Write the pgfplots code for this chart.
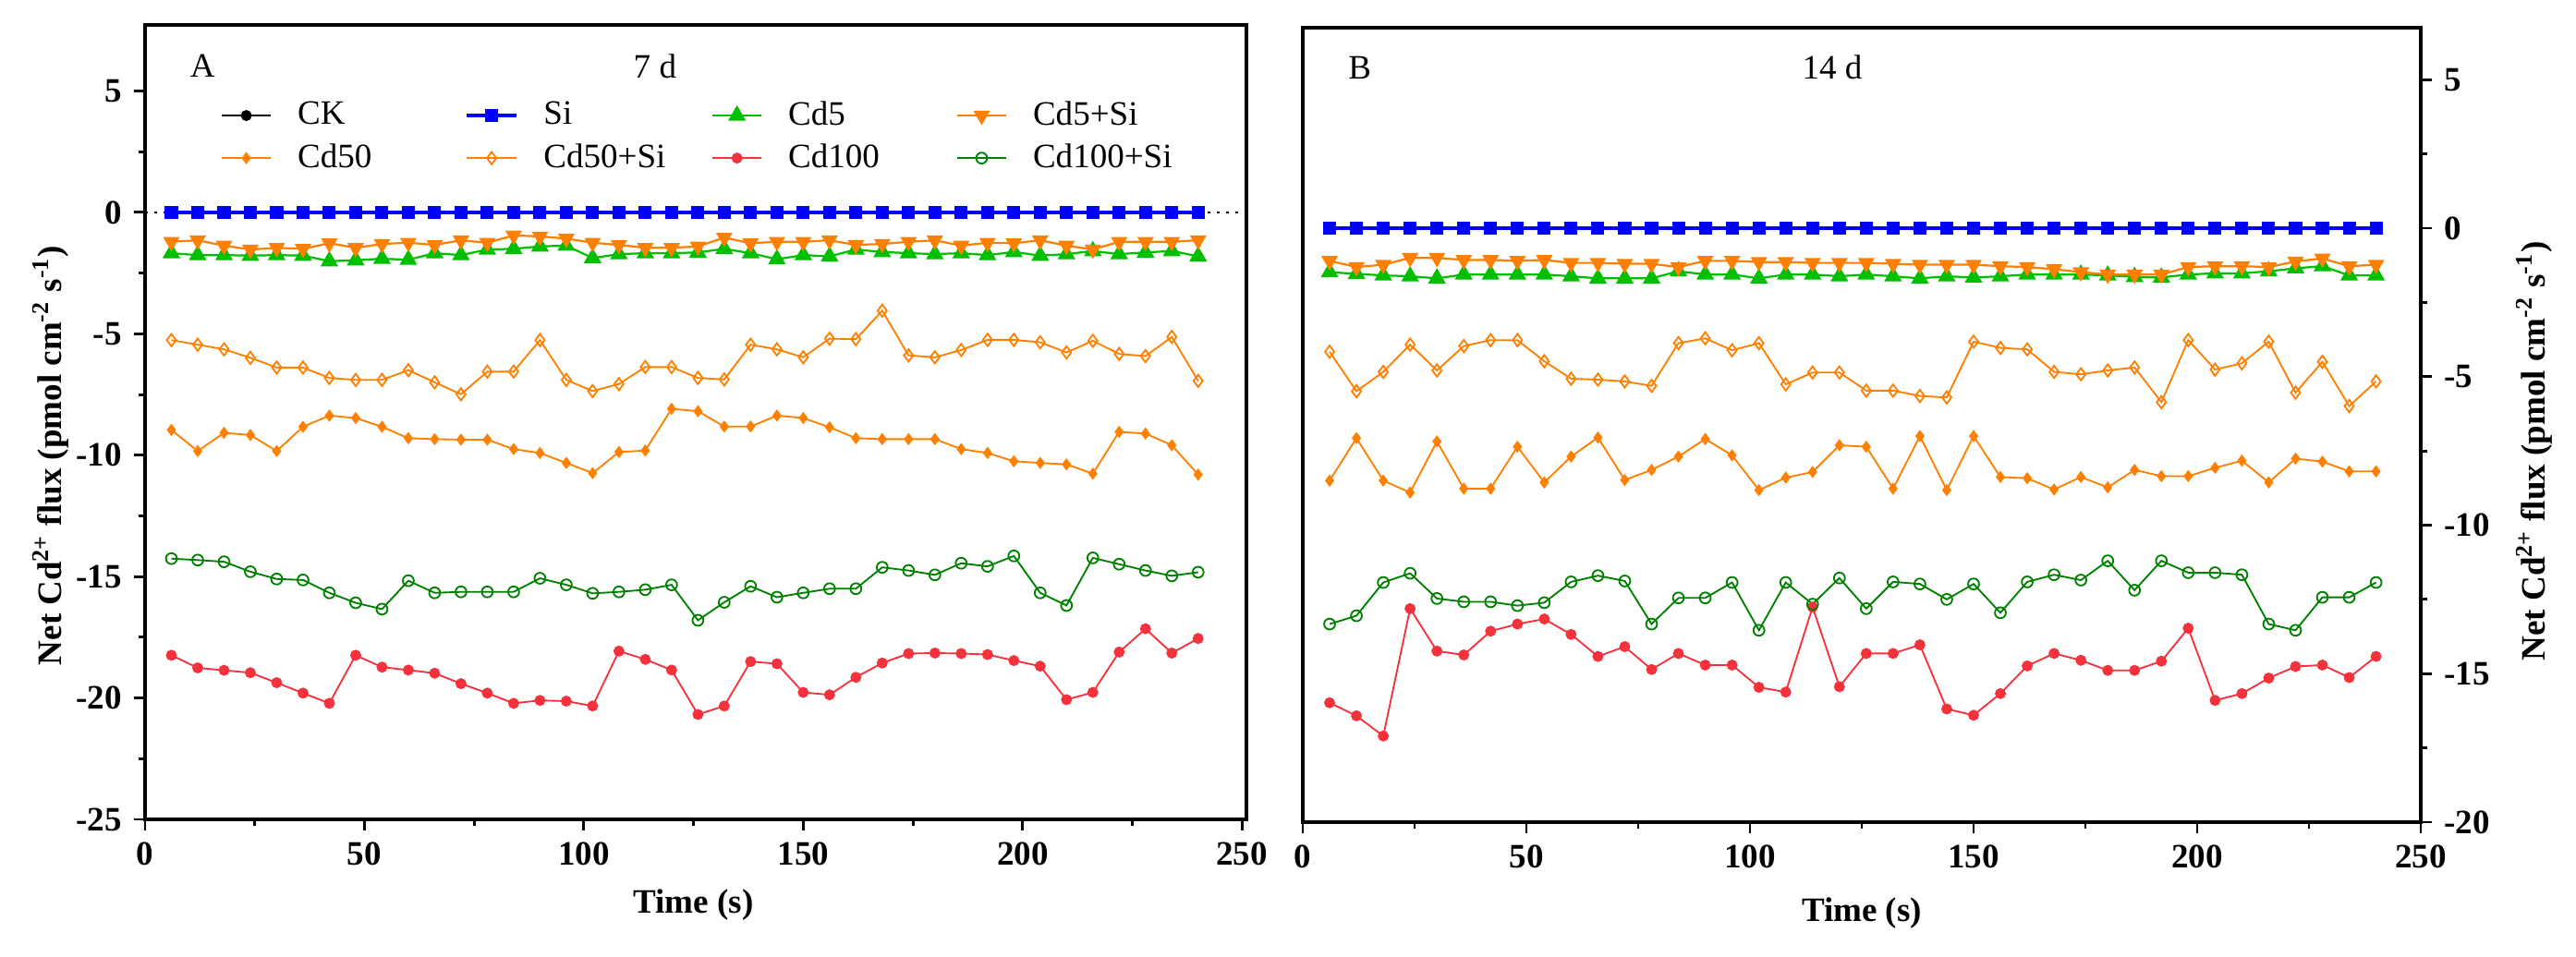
\documentclass[border=0pt]{standalone}
\usepackage{fontspec}
\setmainfont{Liberation Serif}
\usepackage{pgfplots}
\usepackage{pgfplotstable}
\pgfplotsset{compat=1.18}

\definecolor{cblue}{RGB}{0,0,255}
\definecolor{cgreen}{RGB}{0,190,0}
\definecolor{corange}{RGB}{255,128,0}
\definecolor{cred}{RGB}{245,50,60}
\definecolor{cdgreen}{RGB}{0,128,0}

% 7 d
\pgfplotstableread{
t   CK  Si  Cd5    Cd5Si  Cd50    Cd50Si  Cd100   Cd100Si
6   0   0   -1.68  -1.21  -8.96   -5.26   -18.24  -14.26
12  0   0   -1.76  -1.15  -9.83   -5.45   -18.76  -14.32
18  0   0   -1.76  -1.37  -9.08   -5.64   -18.86  -14.39
24  0   0   -1.78  -1.53  -9.17   -5.99   -18.96  -14.80
30  0   0   -1.76  -1.46  -9.83   -6.39   -19.37  -15.10
36  0   0   -1.78  -1.50  -8.83   -6.39   -19.80  -15.14
42  0   0   -2.01  -1.27  -8.37   -6.82   -20.22  -15.67
48  0   0   -1.97  -1.46  -8.47   -6.90   -18.24  -16.08
54  0   0   -1.91  -1.30  -8.83   -6.90   -18.73  -16.34
60  0   0   -1.95  -1.25  -9.30   -6.50   -18.85  -15.17
66  0   0   -1.68  -1.34  -9.34   -7.00   -18.98  -15.67
72  0   0   -1.76  -1.15  -9.36   -7.49   -19.41  -15.63
78  0   0   -1.53  -1.25  -9.36   -6.56   -19.80  -15.63
84  0   0   -1.50  -0.95  -9.75   -6.56   -20.22  -15.63
90  0   0   -1.40  -0.99  -9.91   -5.26   -20.10  -15.07
96  0   0   -1.37  -1.08  -10.32  -6.90   -20.13  -15.34
102 0   0   -1.88  -1.25  -10.74  -7.36   -20.33  -15.69
108 0   0   -1.72  -1.34  -9.87   -7.07   -18.07  -15.63
114 0   0   -1.68  -1.46  -9.81   -6.37   -18.41  -15.54
120 0   0   -1.68  -1.46  -8.09   -6.37   -18.85  -15.34
126 0   0   -1.65  -1.40  -8.19   -6.82   -20.68  -16.80
132 0   0   -1.50  -1.04  -8.82   -6.88   -20.33  -16.06
138 0   0   -1.68  -1.27  -8.82   -5.45   -18.50  -15.40
144 0   0   -1.93  -1.21  -8.37   -5.64   -18.59  -15.85
150 0   0   -1.76  -1.21  -8.47   -5.97   -19.77  -15.67
156 0   0   -1.81  -1.15  -8.85   -5.20   -19.87  -15.50
162 0   0   -1.53  -1.34  -9.30   -5.22   -19.15  -15.50
168 0   0   -1.63  -1.30  -9.34   -4.05   -18.56  -14.62
174 0   0   -1.68  -1.21  -9.34   -5.89   -18.17  -14.75
180 0   0   -1.72  -1.15  -9.34   -5.97   -18.15  -14.93
186 0   0   -1.68  -1.37  -9.75   -5.67   -18.17  -14.45
192 0   0   -1.76  -1.25  -9.91   -5.25   -18.21  -14.58
198 0   0   -1.63  -1.27  -10.25  -5.25   -18.46  -14.15
204 0   0   -1.78  -1.15  -10.32  -5.35   -18.69  -15.67
210 0   0   -1.72  -1.37  -10.38  -5.77   -20.07  -16.19
216 0   0   -1.59  -1.53  -10.76  -5.29   -19.77  -14.23
222 0   0   -1.72  -1.21  -9.04   -5.83   -18.11  -14.49
228 0   0   -1.65  -1.21  -9.11   -5.92   -17.15  -14.75
234 0   0   -1.59  -1.21  -9.59   -5.13   -18.15  -14.97
240 0   0   -1.81  -1.15  -10.80  -6.94   -17.55  -14.82
}\tabA

% 14 d
\pgfplotstableread{
t   CK  Si  Cd5    Cd5Si  Cd50   Cd50Si  Cd100   Cd100Si
6   0   0   -1.48  -1.10  -8.50  -4.16   -15.98  -13.33
12  0   0   -1.54  -1.31  -7.07  -5.49   -16.42  -13.05
18  0   0   -1.59  -1.23  -8.50  -4.84   -17.10  -11.93
24  0   0   -1.62  -1.00  -8.90  -3.92   -12.81  -11.62
30  0   0   -1.69  -1.00  -7.18  -4.79   -14.24  -12.47
36  0   0   -1.56  -1.07  -8.77  -3.97   -14.37  -12.58
42  0   0   -1.56  -1.07  -8.77  -3.77   -13.57  -12.58
48  0   0   -1.56  -1.10  -7.36  -3.77   -13.33  -12.71
54  0   0   -1.56  -1.07  -8.56  -4.48   -13.16  -12.61
60  0   0   -1.62  -1.17  -7.69  -5.07   -13.68  -11.91
66  0   0   -1.69  -1.17  -7.05  -5.10   -14.42  -11.70
72  0   0   -1.69  -1.20  -8.48  -5.16   -14.09  -11.88
78  0   0   -1.69  -1.20  -8.14  -5.31   -14.86  -13.33
84  0   0   -1.45  -1.31  -7.69  -3.87   -14.32  -12.45
90  0   0   -1.56  -1.10  -7.10  -3.71   -14.71  -12.45
96  0   0   -1.56  -1.10  -7.65  -4.11   -14.71  -11.93
102 0   0   -1.69  -1.14  -8.82  -3.87   -15.46  -13.54
108 0   0   -1.56  -1.14  -8.40  -5.26   -15.62  -11.93
114 0   0   -1.56  -1.17  -8.21  -4.86   -12.76  -12.66
120 0   0   -1.62  -1.17  -7.31  -4.86   -15.44  -11.78
126 0   0   -1.56  -1.17  -7.36  -5.47   -14.32  -12.81
132 0   0   -1.62  -1.20  -8.77  -5.47   -14.32  -11.91
138 0   0   -1.69  -1.23  -7.00  -5.65   -14.03  -11.98
144 0   0   -1.62  -1.23  -8.82  -5.70   -16.19  -12.50
150 0   0   -1.66  -1.23  -7.00  -3.82   -16.40  -11.98
156 0   0   -1.62  -1.28  -8.38  -4.03   -15.67  -12.95
162 0   0   -1.56  -1.31  -8.42  -4.08   -14.74  -11.91
168 0   0   -1.56  -1.38  -8.80  -4.84   -14.32  -11.67
174 0   0   -1.56  -1.48  -8.38  -4.92   -14.55  -11.85
180 0   0   -1.59  -1.56  -8.73  -4.79   -14.89  -11.20
186 0   0   -1.64  -1.56  -8.14  -4.69   -14.89  -12.19
192 0   0   -1.66  -1.56  -8.35  -5.86   -14.58  -11.20
198 0   0   -1.56  -1.31  -8.35  -3.77   -13.47  -11.60
204 0   0   -1.52  -1.28  -8.07  -4.76   -15.90  -11.60
210 0   0   -1.52  -1.28  -7.83  -4.55   -15.67  -11.67
216 0   0   -1.45  -1.31  -8.56  -3.82   -15.15  -13.33
222 0   0   -1.35  -1.12  -7.76  -5.54   -14.76  -13.54
228 0   0   -1.28  -1.02  -7.86  -4.50   -14.71  -12.43
234 0   0   -1.59  -1.28  -8.19  -5.99   -15.13  -12.43
240 0   0   -1.59  -1.23  -8.19  -5.16   -14.42  -11.93
}\tabB

\pgfplotsset{
  fluxaxis/.style={
    scale only axis,
    height=232.2pt,
    tick align=outside,
    major tick length=3.3pt,
    minor tick length=2pt,
    xtick={0,50,...,250},
    minor x tick num=1,
    minor y tick num=1,
    xtick pos=left,
    ticklabel style={font=\bfseries},
    /pgf/number format/assume math mode=true,
    axis line style={line width=1.1pt},
    every tick/.style={black, line width=0.8pt},
    xlabel={\textbf{Time (s)}},
    ylabel={\textbf{Net Cd\textsuperscript{2+} flux (pmol cm\textsuperscript{-2} s\textsuperscript{-1})}},
    legend image code/.code={\draw[mark repeat=2,mark phase=2,##1] plot coordinates {(0pt,0pt) (7.2pt,0pt) (14.4pt,0pt)};},
  },
  sCK/.style={black, line width=0.6pt, mark=*, mark size=1.3pt},
  sSi/.style={cblue, line width=1pt, mark=square*, mark size=1.4pt},
  sCdf/.style={cgreen, line width=0.6pt, mark=triangle*, mark size=2.4pt},
  sCdfSi/.style={corange, line width=0.6pt, mark=triangle*, mark size=2.2pt, mark options={rotate=180}},
  sCdff/.style={corange, line width=0.5pt, mark=diamond*, mark size=1.4pt},
  sCdffSi/.style={corange, line width=0.5pt, mark=diamond, mark size=1.8pt, mark options={fill=white}},
  sCdh/.style={cred, line width=0.5pt, mark=*, mark size=1.35pt},
  sCdhSi/.style={cdgreen, line width=0.5pt, mark=o, mark size=1.6pt, mark options={fill=white}},
}

\begin{document}
\begin{tikzpicture}
% ---------------- Panel A ----------------
\begin{axis}[fluxaxis,
  at={(42.39pt,39.96pt)}, anchor=south west,
  width=321.84pt,
  xmin=0, xmax=251,
  ymin=-25, ymax=7.72,
  ytick={-25,-20,...,5},
  ytick pos=left,
  xlabel style={at={(axis description cs:0.498,-0.108)}, anchor=center},
  ylabel style={at={(axis description cs:-0.0856,0.458)}, anchor=center, rotate=0},
  legend columns=4,
  legend cell align=left,
  legend style={at={(0.068,0.905)}, anchor=north west, draw=none, fill=none,
    inner sep=0pt, row sep=4pt, nodes={inner sep=0pt},
    /tikz/every odd column/.append style={column sep=7.5pt}},
]
\addplot[black, dotted, line width=0.7pt, forget plot] coordinates {(0,0) (251,0)};
\addplot[sCK] table[x=t,y=CK]{\tabA};
\addlegendentry{\makebox[49pt][l]{CK}}
\addplot[sSi] table[x=t,y=Si]{\tabA};
\addlegendentry{\makebox[49pt][l]{Si}}
\addplot[sCdf] table[x=t,y=Cd5]{\tabA};
\addlegendentry{\makebox[49pt][l]{Cd5}}
\addplot[sCdfSi] table[x=t,y=Cd5Si]{\tabA};
\addlegendentry{\makebox[49pt][l]{Cd5+Si}}
\addplot[sCdff] table[x=t,y=Cd50]{\tabA};
\addlegendentry{\makebox[49pt][l]{Cd50}}
\addplot[sCdffSi] table[x=t,y=Cd50Si]{\tabA};
\addlegendentry{\makebox[49pt][l]{Cd50+Si}}
\addplot[sCdh] table[x=t,y=Cd100]{\tabA};
\addlegendentry{\makebox[49pt][l]{Cd100}}
\addplot[sCdhSi] table[x=t,y=Cd100Si]{\tabA};
\addlegendentry{\makebox[49pt][l]{Cd100+Si}}
\node[anchor=west] at (rel axis cs:0.030,0.948) {A};
\node at (rel axis cs:0.463,0.948) {7 d};
\end{axis}

% ---------------- Panel B ----------------
\begin{axis}[fluxaxis,
  at={(380.7pt,39.15pt)}, anchor=south west,
  width=326.7pt,
  xmin=0, xmax=250,
  ymin=-20, ymax=6.75,
  ytick={-20,-15,...,5},
  ytick pos=right,
  yticklabel pos=right,
  xlabel style={at={(axis description cs:0.5,-0.115)}, anchor=center},
  ylabel style={at={(axis description cs:1.1017,0.467)}, anchor=center, rotate=0},
]
\addplot[sCK] table[x=t,y=CK]{\tabB};
\addplot[sSi] table[x=t,y=Si]{\tabB};
\addplot[sCdf] table[x=t,y=Cd5]{\tabB};
\addplot[sCdfSi] table[x=t,y=Cd5Si]{\tabB};
\addplot[sCdff] table[x=t,y=Cd50]{\tabB};
\addplot[sCdffSi] table[x=t,y=Cd50Si]{\tabB};
\addplot[sCdh] table[x=t,y=Cd100]{\tabB};
\addplot[sCdhSi] table[x=t,y=Cd100Si]{\tabB};
\node[anchor=west] at (rel axis cs:0.030,0.95) {B};
\node at (rel axis cs:0.4736,0.95) {14 d};
\end{axis}

\pgfresetboundingbox
\path[use as bounding box] (0pt,0pt) rectangle (752.76pt,279.45pt);
\end{tikzpicture}
\end{document}
